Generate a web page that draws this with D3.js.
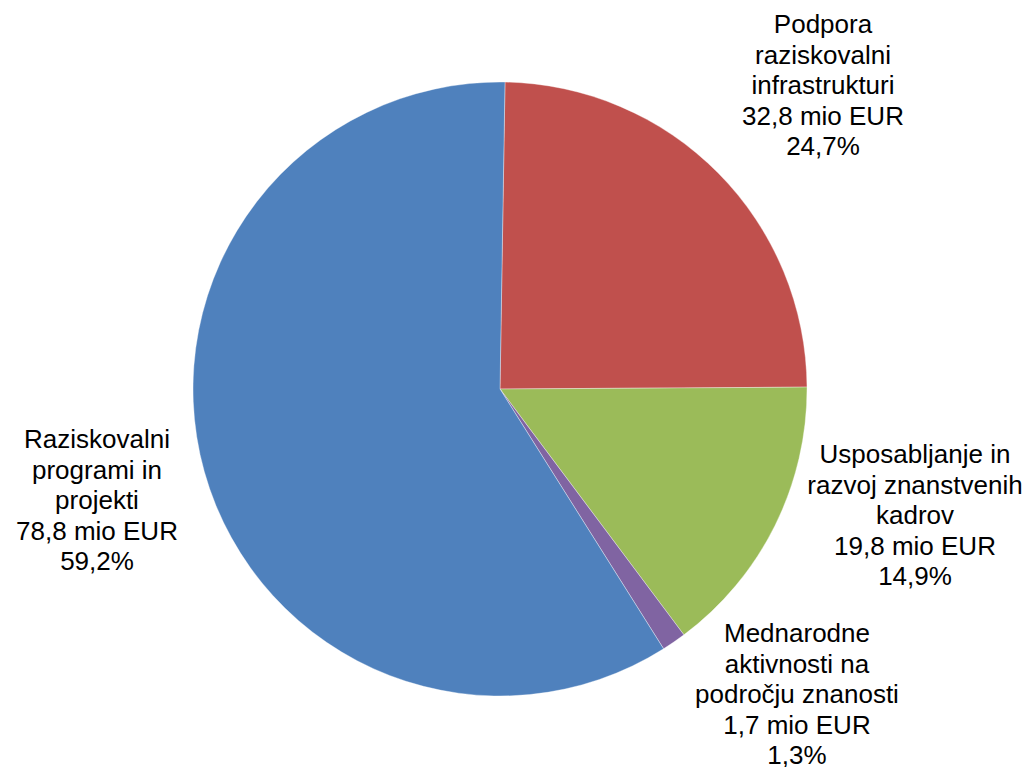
<!DOCTYPE html>
<html>
<head>
<meta charset="utf-8">
<script src="https://cdn.jsdelivr.net/npm/d3@7"></script>
<style>
html,body{margin:0;padding:0;background:#fff;}
svg{display:block;}
</style>
</head>
<body>
<svg id="chart" width="1029" height="767"></svg>
<script>
// Data
const categories = [
  ["Podpora", "raziskovalni", "infrastrukturi"],
  ["Usposabljanje in", "razvoj znanstvenih", "kadrov"],
  ["Mednarodne", "aktivnosti na", "področju znanosti"],
  ["Raziskovalni", "programi in", "projekti"]
];
const valuesMio = [32.8, 19.8, 1.7, 78.8];
const valueLabels = ["32,8 mio EUR", "19,8 mio EUR", "1,7 mio EUR", "78,8 mio EUR"];
const pctLabels = ["24,7%", "14,9%", "1,3%", "59,2%"];
const colors = ["#C0504D", "#9BBB59", "#8064A2", "#4F81BD"];

// Layout
const cx = 500, cy = 389, R = 307;
const start = 0.0163;
const labelPos = [[823, 33], [915, 463], [797, 642], [97, 448]];
const lineH = 30.5;

const svg = d3.select("#chart");
const pie = d3.pie().sort(null).value(d => d).startAngle(start).endAngle(start + 2 * Math.PI);
const arc = d3.arc().innerRadius(0).outerRadius(R);

const g = svg.append("g").attr("transform", `translate(${cx},${cy})`);
g.selectAll("path")
  .data(pie(valuesMio))
  .join("path")
  .attr("d", arc)
  .attr("fill", (d, i) => colors[i])
  .attr("stroke", "rgba(255,255,255,0.45)")
  .attr("stroke-width", 0.8);

const labels = svg.append("g")
  .attr("font-family", "'Liberation Sans', Arial, sans-serif")
  .attr("font-size", 26)
  .attr("fill", "#000")
  .attr("text-anchor", "middle");

categories.forEach((lines, i) => {
  const all = lines.concat([valueLabels[i], pctLabels[i]]);
  const t = labels.append("text")
    .attr("x", labelPos[i][0])
    .attr("y", labelPos[i][1]);
  all.forEach((s, k) => {
    t.append("tspan")
      .attr("x", labelPos[i][0])
      .attr("y", labelPos[i][1] + k * lineH)
      .text(s);
  });
});
</script>
</body>
</html>
